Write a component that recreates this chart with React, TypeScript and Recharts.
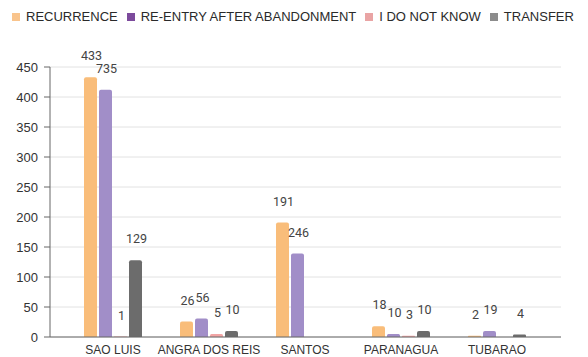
import React from "react";
import { BarChart, Bar, XAxis, YAxis, CartesianGrid, Legend, LabelList } from "recharts";

const ports = ["SAO LUIS", "ANGRA DOS REIS", "SANTOS", "PARANAGUA", "TUBARAO"];

// bar heights as drawn
const recurrence = [433, 26, 191, 18, 2];
const reentry = [412, 31, 139, 5, 10];
const unknown = [1, 5, 0, 2, 0];
const transfer = [128, 10, 0, 10, 4];

// numbers printed above bars (they do not always match the heights)
const recurrenceLabels = ["433", "26", "191", "18", "2"];
const reentryLabels = ["735", "56", "246", "10", "19"];
const unknownLabels = ["1", "5", "", "3", ""];
const transferLabels = ["129", "10", "", "10", "4"];

const yTicks = [0, 50, 100, 150, 200, 250, 300, 350, 400, 450];

const series = [
  { key: "recurrence", name: "RECURRENCE", fill: "#f9bd7a", legend: "#f9c48c", labels: recurrenceLabels },
  { key: "reentry", name: "RE-ENTRY AFTER ABANDONMENT", fill: "#a18ec8", legend: "#7c4a9c", labels: reentryLabels },
  { key: "unknown", name: "I DO NOT KNOW", fill: "#f2a5a5", legend: "#e9a4a4", labels: unknownLabels },
  { key: "transfer", name: "TRANSFER", fill: "#6c6c6c", legend: "#8c8c8c", labels: transferLabels },
];

const data = ports.map((p, i) => {
  const row: any = { port: p };
  row.recurrence = recurrence[i];
  row.reentry = reentry[i];
  row.unknown = unknown[i];
  row.transfer = transfer[i];
  series.forEach((s) => {
    row[s.key + "Label"] = s.labels[i];
  });
  return row;
});

const font = "'Liberation Sans', Arial, sans-serif";

function LegendRow() {
  return (
    <div style={{ display: "flex", alignItems: "center", whiteSpace: "nowrap", fontFamily: font, fontSize: 13, color: "#2a2a2a" }}>
      {series.map((s) => (
        <span key={s.key} style={{ display: "inline-flex", alignItems: "center", marginRight: 9 }}>
          <span style={{ width: 8, height: 8, background: s.legend, display: "inline-block", marginRight: 6 }} />
          {s.name}
        </span>
      ))}
    </div>
  );
}

const renderLabel = (props: any) => {
  const { x, y, width, value } = props;
  if (!value) return null;
  return (
    <text x={x + width / 2 + 1} y={y - 20} textAnchor="middle" dominantBaseline="middle" fontSize={12.5} fill="#444" fontFamily="Roboto, Arial, sans-serif">
      {value}
    </text>
  );
};

export default function App() {
  return (
    <div style={{ position: "absolute", left: 0, top: 0, background: "#fff" }}>
      <BarChart
        width={588}
        height={357}
        data={data}
        margin={{ top: 52, right: 27, left: 0, bottom: 0 }}
        barSize={13}
        barGap={2}
      >
        <CartesianGrid vertical={false} stroke="#e2e2e2" />
        <XAxis
          dataKey="port"
          height={20}
          padding={{ left: 15, right: 16 }}
          axisLine={{ stroke: "#666" }}
          tickLine={false}
          tick={{ fontSize: 12, fill: "#333", fontFamily: font }}
          tickMargin={2}
          interval={0}
        />
        <YAxis
          width={50}
          domain={[0, 450]}
          ticks={yTicks}
          axisLine={{ stroke: "#666" }}
          tickLine={{ stroke: "#666" }}
          tickSize={6}
          tickMargin={6}
          tick={{ fontSize: 13, fill: "#333", fontFamily: font }}
        />
        <Legend
          verticalAlign="top"
          align="left"
          content={() => <LegendRow />}
          wrapperStyle={{ top: 9, left: 12 }}
        />
        {series.map((s) => (
          <Bar key={s.key} dataKey={s.key} name={s.name} fill={s.fill} radius={[2, 2, 0, 0]} isAnimationActive={false}>
            <LabelList dataKey={s.key + "Label"} content={renderLabel} />
          </Bar>
        ))}
      </BarChart>
    </div>
  );
}
